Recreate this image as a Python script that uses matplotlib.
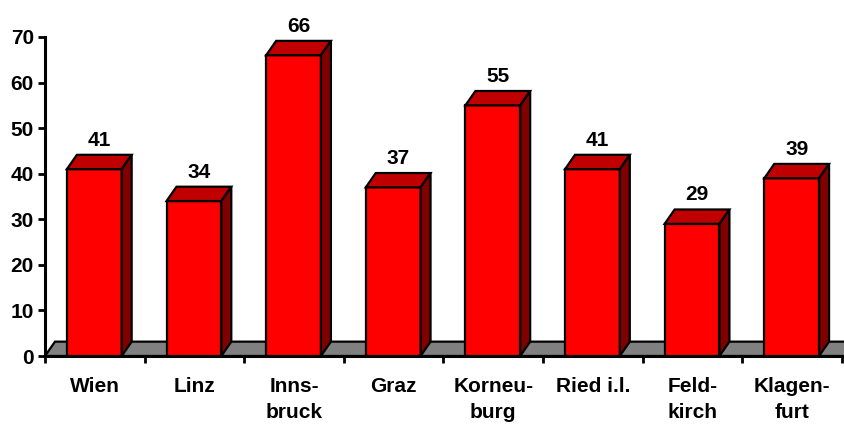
import matplotlib
matplotlib.use("Agg")
import matplotlib.pyplot as plt
from matplotlib.patches import Polygon

categories = ["Wien", "Linz", "Inns-\nbruck", "Graz", "Korneu-\nburg", "Ried i.l.", "Feld-\nkirch", "Klagen-\nfurt"]
values = [41, 34, 66, 37, 55, 41, 29, 39]
yticks = [0, 10, 20, 30, 40, 50, 60, 70]

plt.rcParams['font.family'] = ['Liberation Sans', 'DejaVu Sans']

fig = plt.figure(figsize=(8.45, 4.24), dpi=100)
ax = fig.add_axes([45/845, 1-356/424, 797/845, 319/424])
ax.set_xlim(0, len(values))
ax.set_ylim(0, 70)

dx = 0.1      # depth offset in category units
dy = 3.15     # depth offset in value units
x0_off = 0.22
bw = 0.55
lw = 1.6

# floor
floor = Polygon([(0, 0), (len(values) + 0.2, 0), (len(values) + 0.2 + dx, dy), (dx, dy)],
                closed=True, facecolor='#808080', edgecolor='black', linewidth=lw,
                clip_on=False, zorder=1)
ax.add_patch(floor)

for i, v in enumerate(values):
    x0 = i + x0_off
    x1 = x0 + bw
    front = Polygon([(x0, 0), (x1, 0), (x1, v), (x0, v)], closed=True,
                    facecolor='#FF0000', edgecolor='black', linewidth=lw, zorder=3, clip_on=False)
    top = Polygon([(x0, v), (x1, v), (x1 + dx, v + dy), (x0 + dx, v + dy)], closed=True,
                  facecolor='#C00000', edgecolor='black', linewidth=lw, zorder=3, clip_on=False)
    side = Polygon([(x1, 0), (x1 + dx, dy), (x1 + dx, v + dy), (x1, v)], closed=True,
                   facecolor='#800000', edgecolor='black', linewidth=lw, zorder=3, clip_on=False)
    for p in (front, top, side):
        ax.add_patch(p)
    ax.annotate(str(v), xy=(x0 + bw / 2 + dx / 2, v + dy), xytext=(0, 6.5),
                textcoords='offset points', ha='center', va='baseline',
                fontsize=15, fontweight='bold', clip_on=False, annotation_clip=False)

ax.set_yticks(yticks)
ax.set_yticklabels([str(t) for t in yticks], fontsize=15, fontweight='bold')
ax.set_xticks(range(0, len(values) + 1))
ax.set_xticklabels([])
ax.set_xticks([i + 0.5 for i in range(len(values))], minor=True)
ax.set_xticklabels(categories, minor=True, fontsize=15, fontweight='bold', linespacing=1.5, va='top')
ax.tick_params(axis='x', which='minor', length=0, pad=15)
ax.tick_params(axis='x', which='major', length=5, width=2, direction='out')
ax.tick_params(axis='y', length=5, width=2, direction='out', pad=3)

for s in ['top', 'right']:
    ax.spines[s].set_visible(False)
for s in ['left', 'bottom']:
    ax.spines[s].set_linewidth(2.2)
    ax.spines[s].set_zorder(5)
ax.spines['bottom'].set_bounds(0, len(values) + 0.1)
ax.patch.set_visible(False)

fig.savefig("out.png", dpi=100)
